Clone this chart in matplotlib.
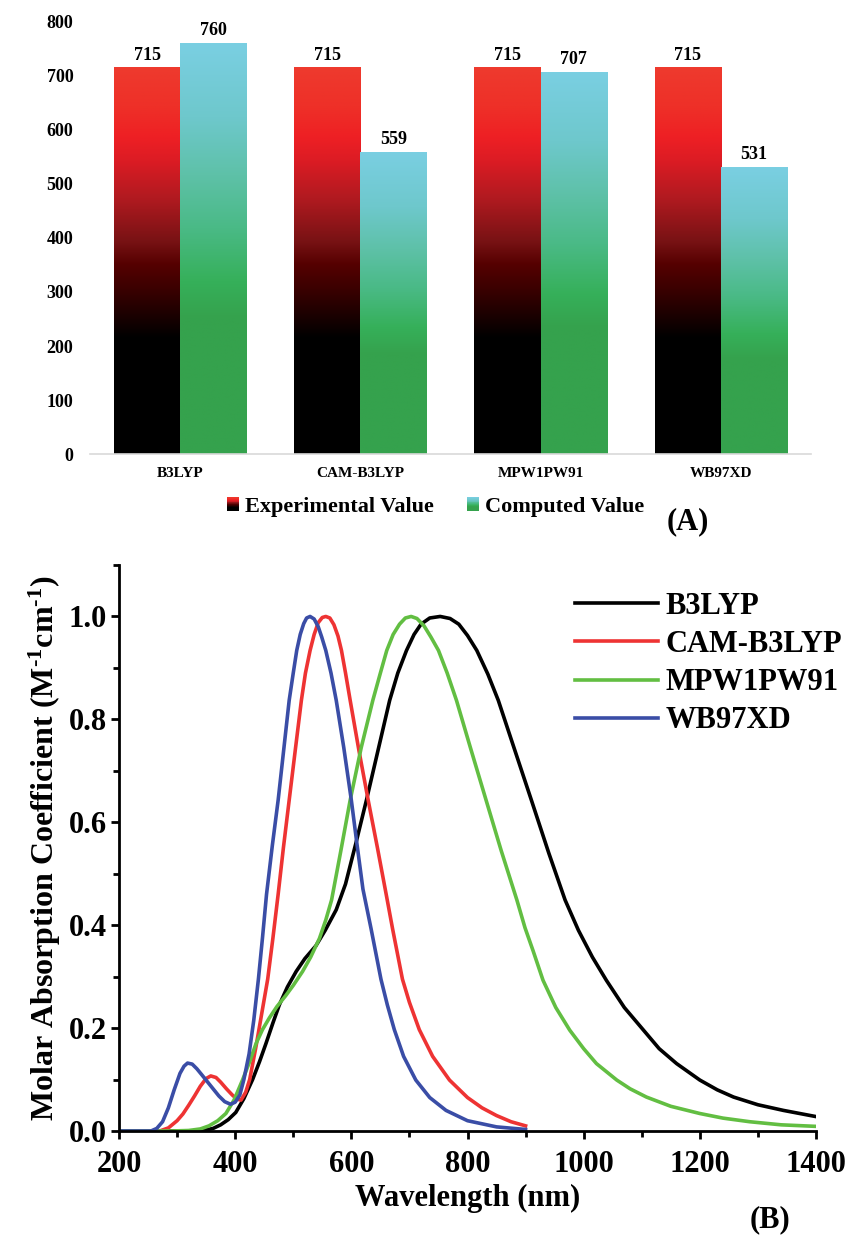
import numpy as np
import matplotlib
matplotlib.use("Agg")
import matplotlib.pyplot as plt
from matplotlib.colors import LinearSegmentedColormap
from matplotlib.legend_handler import HandlerBase
from matplotlib.patches import Rectangle, Patch
from matplotlib.ticker import MultipleLocator

plt.rcParams['font.family'] = ['Liberation Serif', 'DejaVu Serif']
plt.rcParams['font.weight'] = 'bold'
plt.rcParams['mathtext.fontset'] = 'custom'
plt.rcParams['mathtext.rm'] = 'Liberation Serif:bold'
plt.rcParams['mathtext.default'] = 'rm'

# ---- panel A data ----
methods = ["B3LYP", "CAM-B3LYP", "MPW1PW91", "WB97XD"]
experimental = [715, 715, 715, 715]
computed = [760, 559, 707, 531]

# ---- panel B data ----
b3lyp_nm = [200, 340, 349, 362, 375, 388, 401, 415, 430, 442, 453, 465, 476, 490, 505, 520, 539, 555,
            574, 590, 608, 626, 646, 666, 680, 695, 708, 720, 735, 753, 770, 785, 800, 816, 835, 853,
            880, 910, 940, 968, 991, 1015, 1039, 1070, 1103, 1130, 1160, 1200, 1230, 1258, 1300, 1344, 1400]
b3lyp_y = [0.0, 0.0, 0.002, 0.005, 0.012, 0.022, 0.036, 0.063, 0.10, 0.135, 0.17, 0.21, 0.245, 0.28, 0.31, 0.335, 0.36, 0.39,
           0.43, 0.48, 0.56, 0.643, 0.74, 0.837, 0.89, 0.934, 0.965, 0.985, 0.997, 1.0, 0.996, 0.985, 0.963, 0.934, 0.888, 0.837,
           0.745, 0.643, 0.54, 0.449, 0.39, 0.338, 0.293, 0.24, 0.196, 0.16, 0.131, 0.099, 0.08, 0.066, 0.051, 0.04, 0.028]

cam_nm = [200, 270, 285, 300, 310, 320, 330, 340, 350, 358, 367, 375, 385, 395, 403, 410, 418, 425, 436,
          446, 456, 465, 474, 483, 493, 504, 514, 521, 529, 536, 543, 550, 556, 563, 570, 577, 583, 590,
          598, 613, 629, 645, 660, 671, 688, 700, 717, 740, 769, 800, 825, 850, 875, 900]
cam_y = [0.0, 0.0, 0.006, 0.02, 0.033, 0.05, 0.068, 0.087, 0.102, 0.107, 0.104, 0.095, 0.082, 0.07, 0.062, 0.06, 0.075, 0.10, 0.165,
         0.23, 0.295, 0.375, 0.46, 0.55, 0.643, 0.745, 0.837, 0.89, 0.934, 0.965, 0.988, 0.998, 1.0, 0.997, 0.984, 0.962, 0.934, 0.89,
         0.837, 0.74, 0.643, 0.55, 0.46, 0.393, 0.295, 0.25, 0.197, 0.145, 0.099, 0.065, 0.045, 0.03, 0.018, 0.01]

mpw_nm = [200, 290, 320, 340, 355, 370, 384, 398, 413, 425, 436, 447, 459, 472, 487, 500, 516, 530, 545,
          556, 566, 582, 598, 617, 637, 650, 661, 672, 683, 693, 703, 713, 725, 737, 750, 765, 781, 805,
          832, 858, 885, 899, 913, 930, 952, 976, 1000, 1022, 1057, 1080, 1108, 1150, 1200, 1240, 1286, 1340, 1400]
mpw_y = [0.0, 0.0, 0.001, 0.004, 0.01, 0.02, 0.034, 0.06, 0.10, 0.135, 0.17, 0.197, 0.22, 0.242, 0.263, 0.283, 0.31, 0.338, 0.374,
         0.41, 0.449, 0.545, 0.643, 0.745, 0.837, 0.89, 0.934, 0.965, 0.985, 0.997, 1.0, 0.996, 0.982, 0.96, 0.934, 0.89, 0.837, 0.745,
         0.643, 0.545, 0.449, 0.395, 0.35, 0.293, 0.24, 0.196, 0.16, 0.131, 0.099, 0.082, 0.066, 0.048, 0.034, 0.025, 0.018, 0.012, 0.009]

wb_nm = [200, 255, 265, 275, 285, 295, 305, 312, 318, 326, 334, 342, 352, 362, 372, 382, 392, 400, 408,
         415, 424, 432, 440, 447, 454, 464, 474, 484, 493, 500, 506, 512, 518, 523, 529, 536, 543, 549,
         556, 565, 574, 587, 600, 610, 620, 634, 651, 662, 674, 690, 711, 735, 763, 800, 850, 900]
wb_y = [0.0, 0.0, 0.005, 0.018, 0.045, 0.08, 0.112, 0.126, 0.132, 0.13, 0.121, 0.11, 0.096, 0.082, 0.068, 0.057, 0.052, 0.056, 0.07,
        0.10, 0.15, 0.215, 0.295, 0.375, 0.46, 0.555, 0.643, 0.745, 0.837, 0.89, 0.934, 0.965, 0.986, 0.997, 1.0, 0.995, 0.98, 0.96,
        0.934, 0.89, 0.837, 0.745, 0.643, 0.555, 0.47, 0.393, 0.295, 0.245, 0.197, 0.145, 0.099, 0.065, 0.04, 0.02, 0.008, 0.003]

red_cmap = LinearSegmentedColormap.from_list("exp", [
    (0.0, "#000000"), (0.30, "#000000"), (0.42, "#380000"), (0.49, "#550000"),
    (0.55, "#781214"), (0.66, "#B01A20"), (0.76, "#DC1C24"), (0.82, "#EE2024"),
    (0.90, "#EE3028"), (1.0, "#EE3A2E")])
cyan_cmap = LinearSegmentedColormap.from_list("comp", [
    (0.0, "#35A24D"), (0.33, "#35A24D"), (0.42, "#36B05A"), (0.55, "#4ABA86"),
    (0.68, "#5EC1A8"), (0.82, "#6EC8CC"), (1.0, "#7ACFE2")])


class GradientHandler(HandlerBase):
    def __init__(self, cmap):
        super().__init__()
        self.cmap = cmap

    def create_artists(self, legend, orig_handle, xdescent, ydescent, width, height, fontsize, trans):
        n = 16
        out = []
        for i in range(n):
            r = Rectangle((-xdescent, -ydescent + height * i / n), width, height / n * 1.05,
                          facecolor=self.cmap((i + 0.5) / n), edgecolor='none', transform=trans)
            out.append(r)
        return out


fig = plt.figure(figsize=(8.49, 12.42), dpi=100)

# ================= panel A =================
axA = fig.add_axes([90 / 849, 1 - 454 / 1242, 721 / 849, 432 / 1242])
x = np.arange(len(methods))
w = 0.367
grad = np.linspace(0, 1, 256).reshape(-1, 1)

for xi, val in zip(x, experimental):
    axA.imshow(grad, extent=[xi - w, xi, 0, val], cmap=red_cmap, aspect='auto',
               origin='lower', zorder=2, interpolation='bilinear')
    axA.annotate(str(val), (xi - w / 2, val), xytext=(0, 3), textcoords='offset points',
                 ha='center', va='bottom', fontsize=13, fontweight='bold')
for xi, val in zip(x, computed):
    axA.imshow(grad, extent=[xi, xi + w, 0, val], cmap=cyan_cmap, aspect='auto',
               origin='lower', zorder=2, interpolation='bilinear')
    axA.annotate(str(val), (xi + w / 2, val), xytext=(0, 3), textcoords='offset points',
                 ha='center', va='bottom', fontsize=13, fontweight='bold')

axA.set_xlim(-0.5, 3.5)
axA.set_ylim(0, 800)
axA.set_yticks(range(0, 801, 100))
axA.set_xticks(x)
axA.set_xticklabels(methods, fontsize=11, fontweight='bold')
axA.tick_params(axis='y', length=0, labelsize=13, pad=12)
axA.tick_params(axis='x', length=0, pad=9)
for s in ['top', 'right', 'left']:
    axA.spines[s].set_visible(False)
axA.spines['bottom'].set_color('#D9D9D9')
axA.spines['bottom'].set_linewidth(1.2)

h_exp = Patch(label="Experimental Value")
h_comp = Patch(label="Computed Value")
fig.legend(handles=[h_exp, h_comp], loc='center', bbox_to_anchor=(436 / 849, 1 - 507 / 1242),
           ncol=2, frameon=False, fontsize=16, handlelength=0.5, handleheight=0.6,
           handletextpad=0.3, columnspacing=1.5,
           handler_map={h_exp: GradientHandler(red_cmap), h_comp: GradientHandler(cyan_cmap)})
fig.text(688 / 849, 1 - 522 / 1242, "(A)", fontsize=22, fontweight='bold', ha='center', va='center')

# ================= panel B =================
axB = fig.add_axes([119 / 849, 1 - 1131 / 1242, 697 / 849, 566 / 1242])
axB.plot(b3lyp_nm, b3lyp_y, color='black', lw=2.6, label='B3LYP')
axB.plot(cam_nm, cam_y, color='#EE3333', lw=2.6, label='CAM-B3LYP')
axB.plot(mpw_nm, mpw_y, color='#62BE42', lw=2.6, label='MPW1PW91')
axB.plot(wb_nm, wb_y, color='#3A4DA6', lw=2.6, label='WB97XD')

axB.set_xlim(200, 1400)
axB.set_ylim(0, 1.1)
axB.xaxis.set_major_locator(MultipleLocator(200))
axB.xaxis.set_minor_locator(MultipleLocator(100))
axB.yaxis.set_major_locator(MultipleLocator(0.2))
axB.yaxis.set_minor_locator(MultipleLocator(0.1))
axB.yaxis.set_major_formatter(plt.FuncFormatter(lambda v, p: f"{v:.1f}"))
for s in ['top', 'right']:
    axB.spines[s].set_visible(False)
for s in ['left', 'bottom']:
    axB.spines[s].set_linewidth(2)
axB.tick_params(which='major', direction='out', length=6, width=2, labelsize=22)
axB.tick_params(which='minor', direction='out', length=4, width=2)
axB.tick_params(axis='x', which='major', pad=8)
axB.tick_params(axis='y', which='major', pad=3)
axB.set_xlabel("Wavelength (nm)", fontsize=22, fontweight='bold', labelpad=3)
axB.set_ylabel("Molar Absorption Coefficient (M$^{\\text{-1}}$cm$^{\\text{-1}}$)",
               fontsize=23, fontweight='bold', labelpad=4)

axB.legend(loc='upper left', bbox_to_anchor=(575 / 849, 1 - 592 / 1242), bbox_transform=fig.transFigure,
           frameon=False, fontsize=22, handlelength=2.7, handletextpad=0.25, labelspacing=0.3,
           borderpad=0, borderaxespad=0)
fig.text(770 / 849, 1 - 1220 / 1242, "(B)", fontsize=22, fontweight='bold', ha='center', va='center')

fig.savefig("out.png", dpi=100)
